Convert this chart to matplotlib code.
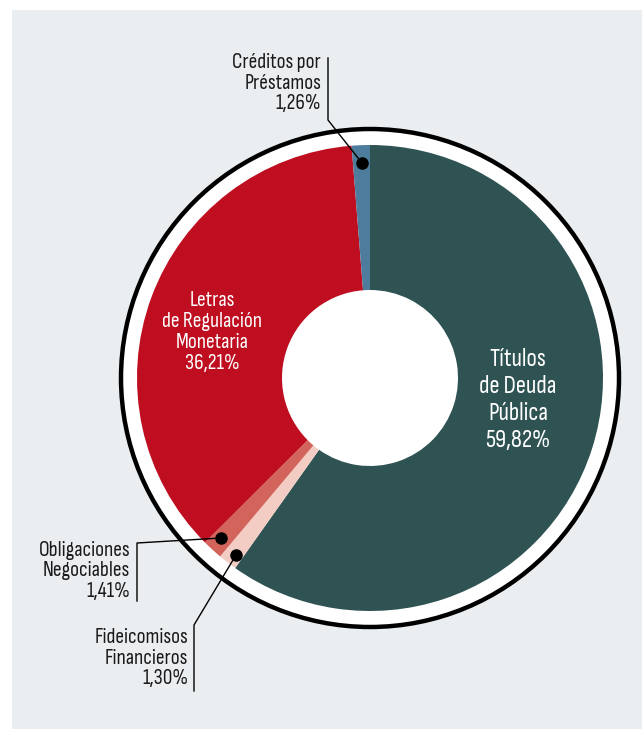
import matplotlib.pyplot as plt
from matplotlib import font_manager
from matplotlib.patches import Circle, Rectangle

# data (clockwise from the top)
labels = ['Títulos\nde Deuda\nPública', 'Fideicomisos\nFinancieros', 'Obligaciones\nNegociables',
          'Letras\nde Regulación\nMonetaria', 'Créditos por\nPréstamos']
values = [59.82, 1.30, 1.41, 36.21, 1.26]
pct_text = ['59,82%', '1,30%', '1,41%', '36,21%', '1,26%']
colors = ['#2e5352', '#f3cdc4', '#d3645b', '#be0e20', '#4d7c9c']

W, H = 642, 729

# narrow font, whichever is installed
names = {f.name for f in font_manager.fontManager.ttflist}
wanted = ['Sofia Sans Condensed', 'Sofia Sans Semi Condensed', 'Liberation Sans Narrow', 'Lato']
FONT = [next((n for n in wanted if n in names), 'DejaVu Sans'), 'DejaVu Sans']


def Y(y):
    return H - y


fig = plt.figure(figsize=(W / 100, H / 100), dpi=100)
ax = fig.add_axes([0, 0, 1, 1])
ax.set_xlim(0, W)
ax.set_ylim(0, H)
ax.set_aspect('equal')
ax.axis('off')

ax.add_patch(Rectangle((12, 0), W - 12, H - 10, facecolor='#ebeef0', edgecolor='none', zorder=0))

cx, cy = 370, Y(378)
ax.add_patch(Circle((cx, cy), 249, facecolor='white', edgecolor='black', lw=3.2, zorder=1))

wedges, _ = ax.pie(values, colors=colors, startangle=90, counterclock=False,
                   radius=233, center=(cx, cy), frame=True,
                   wedgeprops=dict(width=145, linewidth=0))
for w in wedges:
    w.set_zorder(2)
ax.set_xlim(0, W)
ax.set_ylim(0, H)
ax.axis('off')

# labels inside the ring
ax.text(518, Y(400), labels[0] + '\n' + pct_text[0], color='white', ha='center', va='center',
        fontsize=18, family=FONT, linespacing=1.22, zorder=3)
ax.text(212, Y(332), labels[3] + '\n' + pct_text[3], color='white', ha='center', va='center',
        fontsize=15.5, family=FONT, linespacing=1.14, zorder=3)

# callouts
dot_kw = dict(color='black', zorder=5)
line_kw = dict(color='black', lw=1.0, zorder=4)
txt_kw = dict(ha='right', va='center', fontsize=15.5, family=FONT, linespacing=1.08, color='#1a1a1a')

# Créditos por Préstamos
ax.plot([362, 328, 328], [Y(163), Y(120), Y(58)], **line_kw)
ax.plot(362, Y(163), 'o', ms=8, **dot_kw)
ax.text(321, Y(83), labels[4] + '\n' + pct_text[4], **txt_kw)

# Obligaciones Negociables
ax.plot([221, 137, 137], [Y(538), Y(543), Y(601)], **line_kw)
ax.plot(221, Y(538), 'o', ms=8, **dot_kw)
ax.text(130, Y(571), labels[2] + '\n' + pct_text[2], **txt_kw)

# Fideicomisos Financieros
ax.plot([236, 194, 194], [Y(555), Y(625), Y(691)], **line_kw)
ax.plot(236, Y(555), 'o', ms=8, **dot_kw)
ax.text(188, Y(658), labels[1] + '\n' + pct_text[1], **txt_kw)

fig.savefig('out.png', dpi=100, facecolor='white')
